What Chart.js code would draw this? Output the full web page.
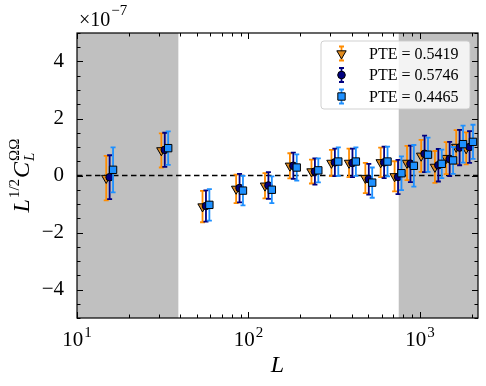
<!DOCTYPE html>
<html>
<head>
<meta charset="utf-8">
<script src="https://cdn.jsdelivr.net/npm/chart.js@4.4.1/dist/chart.umd.min.js"></script>
<style>
  html, body { margin: 0; padding: 0; background: #fff; }
</style>
</head>
<body>
<canvas id="chart" width="486" height="386"></canvas>
<script>
// multipole bin centres
const L = [15.5, 32.5, 56.5, 88.7, 130.7, 182.6, 244, 319, 404, 503, 618, 745, 880, 1064, 1280, 1490, 1703, 1947];

// L^{1/2} C_L values, in units of 1e-7
const orangeVals = [-0.09, 0.88, -1.09, -0.47, -0.36, 0.34, 0.14, 0.44, 0.44, -0.09, 0.46, -0.03, 0.44, 0.69, 0.30, 0.61, 1.00, 0.95];
const orangeErr  = [0.78, 0.60, 0.55, 0.50, 0.44, 0.44, 0.42, 0.46, 0.50, 0.53, 0.52, 0.53, 0.60, 0.56, 0.56, 0.56, 0.59, 0.56];
const navyVals   = [-0.06, 0.90, -1.07, -0.44, -0.35, 0.34, 0.14, 0.46, 0.44, -0.13, 0.46, -0.05, 0.41, 0.76, 0.36, 0.58, 0.98, 1.00];
const navyErr    = [0.77, 0.60, 0.55, 0.50, 0.47, 0.46, 0.46, 0.48, 0.50, 0.54, 0.55, 0.60, 0.64, 0.64, 0.57, 0.60, 0.62, 0.56];
const blueVals   = [0.20, 0.96, -1.03, -0.53, -0.50, 0.28, 0.18, 0.49, 0.49, -0.25, 0.49, 0.08, 0.34, 0.73, 0.41, 0.53, 1.10, 1.18];
const blueErr    = [0.79, 0.59, 0.55, 0.52, 0.47, 0.46, 0.42, 0.50, 0.50, 0.53, 0.52, 0.59, 0.73, 0.60, 0.50, 0.47, 0.65, 0.60];

const seriesLabels = ["PTE = 0.5419", "PTE = 0.5746", "PTE = 0.4465"];

const xTicks = [10, 20, 30, 40, 50, 60, 70, 80, 90, 100, 200, 300, 400, 500, 600, 700, 800, 900, 1000, 2000];
const xTickExp = { 10: "1", 100: "2", 1000: "3" };
const yTickLabels = { "-4": "−4", "-2": "−2", "0": "0", "2": "2", "4": "4" };

// masked multipole ranges (shaded)
const maskLow = 39;
const maskHigh = 752;

const SERIF = "'Liberation Serif', 'DejaVu Serif', serif";
const CAP = 2.5;

function series(vals, shift) {
  return vals.map((v, i) => ({ x: L[i] * shift, y: v }));
}

const errorBars = {
  id: "errorBars",
  beforeDatasetDraw(chart, args) {
    const ds = chart.data.datasets[args.index];
    const xs = chart.scales.x, ys = chart.scales.y;
    const ctx = chart.ctx;
    ctx.save();
    ctx.strokeStyle = ds.barColor;
    ctx.lineWidth = 1.8;
    ds.data.forEach((p, i) => {
      const px = xs.getPixelForValue(p.x);
      const top = ys.getPixelForValue(p.y + ds.errors[i]);
      const bot = ys.getPixelForValue(p.y - ds.errors[i]);
      ctx.beginPath();
      ctx.moveTo(px, top); ctx.lineTo(px, bot);
      ctx.moveTo(px - CAP, top); ctx.lineTo(px + CAP, top);
      ctx.moveTo(px - CAP, bot); ctx.lineTo(px + CAP, bot);
      ctx.stroke();
    });
    ctx.restore();
  }
};

const backdrop = {
  id: "backdrop",
  beforeDatasetsDraw(chart) {
    const { ctx, chartArea: a, scales: { x, y } } = chart;
    ctx.save();
    ctx.fillStyle = "#c0c0c0";
    const lo = x.getPixelForValue(maskLow);
    const hi = x.getPixelForValue(maskHigh);
    ctx.fillRect(a.left, a.top, lo - a.left, a.bottom - a.top);
    ctx.fillRect(hi, a.top, a.right - hi, a.bottom - a.top);
    const y0 = y.getPixelForValue(0);
    ctx.strokeStyle = "#000";
    ctx.lineWidth = 1.5;
    ctx.setLineDash([5.5, 3.5]);
    ctx.beginPath();
    ctx.moveTo(a.left, y0); ctx.lineTo(a.right, y0);
    ctx.stroke();
    ctx.restore();
  }
};

const frame = {
  id: "frame",
  afterDraw(chart) {
    const { ctx, chartArea: a, scales: { x, y } } = chart;
    ctx.save();
    ctx.strokeStyle = "#000";
    ctx.lineWidth = 1.2;
    ctx.strokeRect(a.left, a.top, a.right - a.left, a.bottom - a.top);

    // inward ticks on all four sides
    ctx.lineWidth = 1;
    ctx.beginPath();
    xTicks.forEach(v => {
      const px = Math.round(x.getPixelForValue(v)) + 0.5;
      const len = xTickExp[v] ? 6 : 3.5;
      ctx.moveTo(px, a.bottom); ctx.lineTo(px, a.bottom - len);
      ctx.moveTo(px, a.top); ctx.lineTo(px, a.top + len);
    });
    y.ticks.forEach(t => {
      const py = Math.round(y.getPixelForValue(t.value)) + 0.5;
      const len = yTickLabels[String(t.value)] ? 6 : 3.5;
      ctx.moveTo(a.left, py); ctx.lineTo(a.left + len, py);
      ctx.moveTo(a.right, py); ctx.lineTo(a.right - len, py);
    });
    ctx.stroke();

    ctx.fillStyle = "#000";
    ctx.textBaseline = "alphabetic";

    // x tick labels 10^n
    xTicks.filter(v => xTickExp[v]).forEach(v => {
      const px = x.getPixelForValue(v);
      ctx.font = "21px " + SERIF;
      const wb = ctx.measureText("10").width;
      ctx.font = "15px " + SERIF;
      const we = ctx.measureText(xTickExp[v]).width;
      const sx = px - (wb + we + 1) / 2;
      ctx.font = "21px " + SERIF;
      ctx.fillText("10", sx, 346);
      ctx.font = "15px " + SERIF;
      ctx.fillText(xTickExp[v], sx + wb + 1, 337);
    });

    // offset text
    ctx.font = "20px " + SERIF;
    ctx.fillText("×10", 79, 26);
    const w = ctx.measureText("×10").width;
    ctx.font = "15px " + SERIF;
    ctx.fillText("−7", 79 + w + 1, 15);

    // y axis title: L^{1/2} C_L^{ΩΩ}
    ctx.save();
    ctx.translate(22, (a.top + a.bottom) / 2);
    ctx.rotate(-Math.PI / 2);
    const big = "italic 24px " + SERIF;
    const sup = "15px " + SERIF;
    const supI = "italic 15px " + SERIF;
    ctx.font = big; const wL = ctx.measureText("L").width; const wC = ctx.measureText("C").width;
    ctx.font = sup; const wH = ctx.measureText("1/2").width; const wO = ctx.measureText("ΩΩ").width;
    ctx.font = supI; const wl = ctx.measureText("L").width;
    const total = wL + wH + 2 + wC + Math.max(wO, wl) + 1;
    let cx = -total / 2;
    const base = 7;
    ctx.font = big; ctx.fillText("L", cx, base); cx += wL + 1;
    ctx.font = sup; ctx.fillText("1/2", cx, base - 10); cx += wH + 1;
    ctx.font = big; ctx.fillText("C", cx, base); cx += wC + 1;
    ctx.font = sup; ctx.fillText("ΩΩ", cx, base - 10);
    ctx.font = supI; ctx.fillText("L", cx, base + 5);
    ctx.restore();

    // legend
    const lx = 321, ly = 41, lw = 149, lh = 68;
    ctx.beginPath();
    ctx.roundRect(lx, ly, lw, lh, 3);
    ctx.fillStyle = "rgba(255,255,255,0.8)";
    ctx.fill();
    ctx.strokeStyle = "rgba(204,204,204,0.9)";
    ctx.lineWidth = 1;
    ctx.stroke();
    [0, 1, 2].forEach(row => {
      const ds = chart.data.datasets[row];
      const ry = 53.5 + row * 21.5;
      const mx = 341.5;
      ctx.strokeStyle = ds.barColor;
      ctx.lineWidth = 1.8;
      ctx.beginPath();
      ctx.moveTo(mx, ry - 7); ctx.lineTo(mx, ry + 7);
      ctx.moveTo(mx - CAP, ry - 7); ctx.lineTo(mx + CAP, ry - 7);
      ctx.moveTo(mx - CAP, ry + 7); ctx.lineTo(mx + CAP, ry + 7);
      ctx.stroke();
      ctx.fillStyle = ds.backgroundColor;
      ctx.strokeStyle = ds.borderColor;
      ctx.lineWidth = ds.borderWidth;
      Chart.helpers.drawPoint(ctx, {
        pointStyle: ds.pointStyle, radius: ds.pointRadius,
        rotation: ds.rotation || 0, borderWidth: ds.borderWidth
      }, mx, ry);
      ctx.fillStyle = "#000";
      ctx.font = "16px " + SERIF;
      ctx.textBaseline = "middle";
      ctx.fillText(ds.label, 369, ry + 1);
    });
    ctx.restore();
  }
};

const ctx = document.getElementById("chart").getContext("2d");

new Chart(ctx, {
  type: "scatter",
  data: {
    datasets: [
      {
        label: seriesLabels[0],
        data: series(orangeVals, 0.955),
        errors: orangeErr,
        barColor: "#ff8c00",
        backgroundColor: "#e08a1e",
        borderColor: "#000",
        borderWidth: 1,
        pointStyle: "triangle",
        rotation: 180,
        pointRadius: 5.4,
        order: 2
      },
      {
        label: seriesLabels[1],
        data: series(navyVals, 1),
        errors: navyErr,
        barColor: "#000080",
        backgroundColor: "#000080",
        borderColor: "#000",
        borderWidth: 1,
        pointStyle: "circle",
        pointRadius: 3.8,
        order: 1
      },
      {
        label: seriesLabels[2],
        data: series(blueVals, 1.047),
        errors: blueErr,
        barColor: "#1e90ff",
        backgroundColor: "#1e90ff",
        borderColor: "#000",
        borderWidth: 1,
        pointStyle: "rect",
        pointRadius: 5.2,
        order: 0
      }
    ]
  },
  options: {
    responsive: false,
    animation: false,
    events: [],
    layout: { padding: { top: 33, right: 8, left: 0, bottom: 0 } },
    plugins: {
      legend: { display: false },
      tooltip: { enabled: false }
    },
    scales: {
      x: {
        type: "logarithmic",
        min: 10,
        max: 2180,
        afterBuildTicks: s => { s.ticks = xTicks.map(v => ({ value: v })); },
        afterFit: s => { s.height = 68; },
        grid: { display: false },
        border: { display: false },
        ticks: { display: false },
        title: {
          display: true,
          text: "L",
          color: "#000",
          font: { family: SERIF, size: 24, style: "italic" },
          padding: { top: 0, bottom: 6 }
        }
      },
      y: {
        min: -5,
        max: 5,
        afterFit: s => { s.width = 77; },
        grid: { display: false },
        border: { display: false },
        ticks: {
          stepSize: 0.5,
          autoSkip: false,
          padding: 5,
          color: "#000",
          font: { family: SERIF, size: 21 },
          callback: v => yTickLabels[String(v)] || ""
        }
      }
    }
  },
  plugins: [backdrop, errorBars, frame]
});
</script>
</body>
</html>
